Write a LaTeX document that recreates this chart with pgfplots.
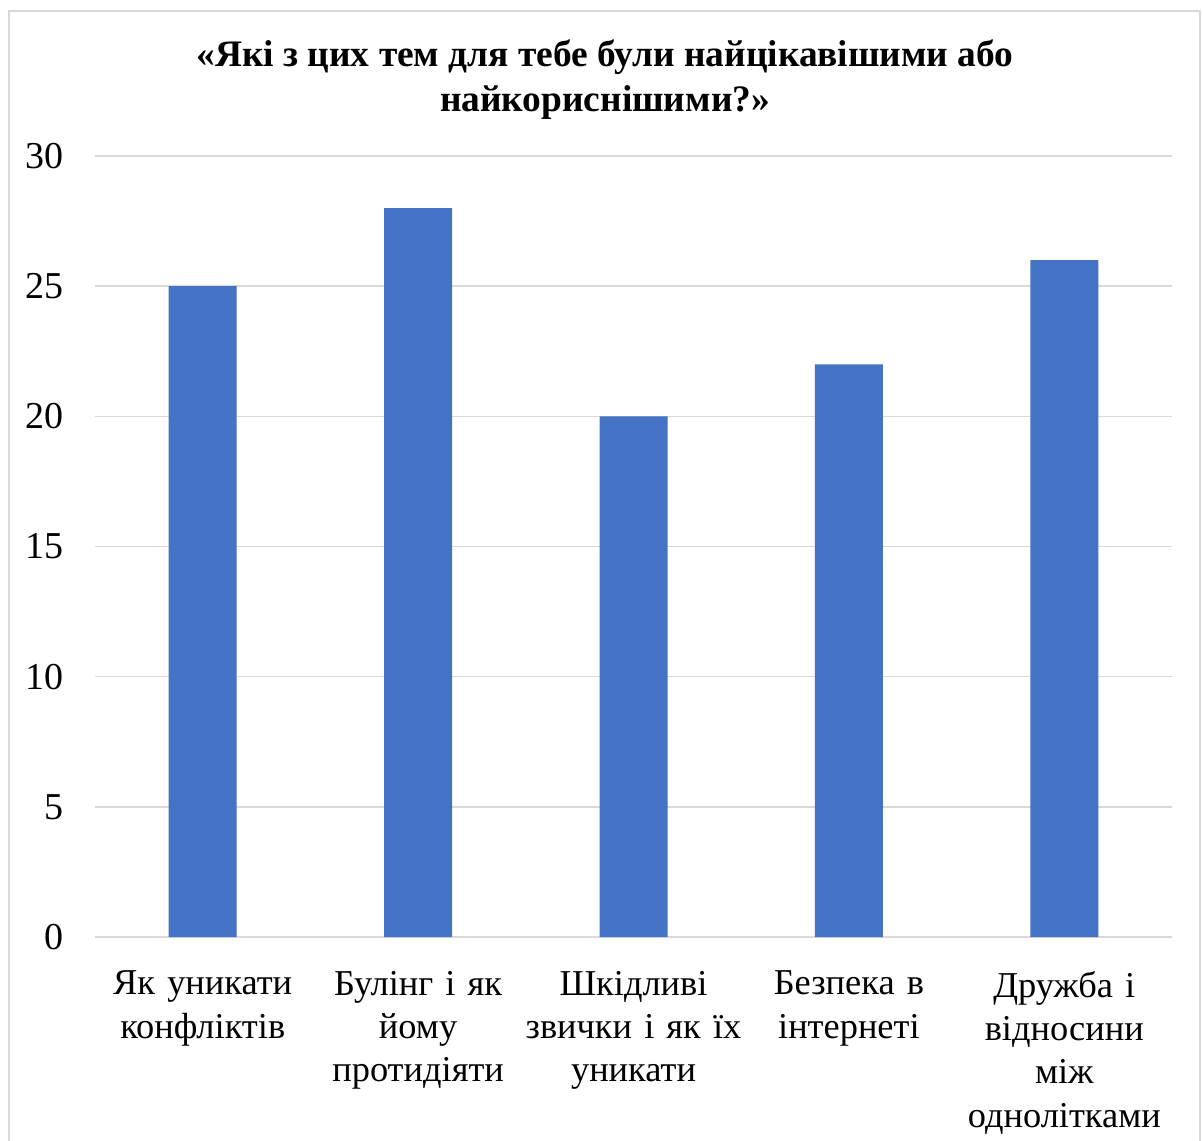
\documentclass[border=0pt]{standalone}
\usepackage{pgfplots}
\pgfplotsset{compat=1.18}
\usepackage{fontspec}
\setmainfont{Liberation Serif}
\definecolor{barblue}{HTML}{4472C4}
\definecolor{gridgray}{HTML}{D9D9D9}
\begin{document}
\begin{tikzpicture}
\path[use as bounding box] (0,0) rectangle (601.5pt,570pt);
\draw[gridgray, line width=0.8pt] (4.5pt,-5pt) -- (4.5pt,564.5pt) -- (600pt,564.5pt) -- (600pt,-5pt);
\node[align=center, font=\fontsize{18.7}{22.5}\selectfont\bfseries] at (302.5pt,530pt)
  {«Які з цих тем для тебе були найцікавішими або\\найкориснішими?»};
\begin{axis}[
  at={(47.5pt,101.5pt)}, anchor=south west,
  scale only axis, width=538.5pt, height=390.5pt,
  ymin=0, ymax=30, ytick={0,5,...,30},
  xmin=-0.5, xmax=4.5,
  xtick=data,
  xticklabels={{Як уникати\\конфліктів},{Булінг і як\\йому\\протидіяти},{Шкідливі\\звички і як їх\\уникати},{Безпека в\\інтернеті},{Дружба і\\відносини\\між\\однолітками}},
  xticklabel style={align=center, text width=120pt, font=\fontsize{18.2}{21.7}\selectfont, yshift=-13.5pt},
  yticklabel style={font=\fontsize{19}{22}\selectfont, xshift=-12pt},
  /pgf/number format/assume math mode=true,
  ymajorgrids, grid style={gridgray, line width=0.8pt},
  axis x line=bottom, axis y line=left,
  x axis line style={gridgray, line width=0.8pt, -},
  y axis line style={draw=none},
  major tick length=0pt,
  ybar, bar width=34pt,
]
\addplot[fill=barblue, draw=none] coordinates {(0,25) (1,28) (2,20) (3,22) (4,26)};
\end{axis}
\end{tikzpicture}
\end{document}
